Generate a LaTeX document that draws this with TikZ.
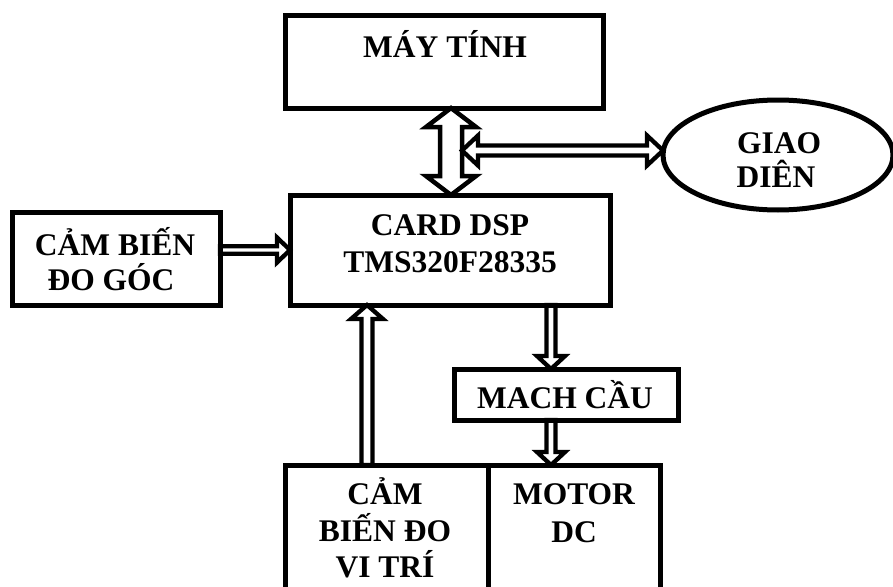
\documentclass[tikz,border=0pt]{standalone}
\usepackage{fontspec}
\setmainfont{Liberation Serif}
\usetikzlibrary{calc,shapes.geometric,backgrounds}
\tikzset{
  box/.style={draw, line width=5pt, rectangle, inner sep=0pt, outer sep=0pt},
  oval/.style={draw, line width=5pt, ellipse, inner sep=0pt, outer sep=0pt},
  lbl/.style={anchor=base, inner sep=0pt, font=\fontsize{31.5}{37}\selectfont\bfseries},
  blk/.style={draw, fill=white, line width=4.5pt, line join=miter, miter limit=10},
  blkthin/.style={blk, line width=4.3pt},
}
% single hollow block arrow: from #2 to #3, shaft half width #4, head half width #5, head length #6, style #1
\newcommand\sarr[6]{%
  \coordinate (tmpc) at ($(#3)!#6!(#2)$);
  \draw[#1] ($(#2)!#4!90:(#3)$) -- ($(tmpc)!#4!90:(#3)$) -- ($(tmpc)!#5!90:(#3)$) -- (#3)
    -- ($(tmpc)!#5!-90:(#3)$) -- ($(tmpc)!#4!-90:(#3)$) -- ($(#2)!#4!-90:(#3)$) -- cycle;}
% double hollow block arrow
\newcommand\darr[6]{%
  \coordinate (tmpa) at ($(#2)!#6!(#3)$);
  \coordinate (tmpb) at ($(#3)!#6!(#2)$);
  \draw[#1] (#2) -- ($(tmpa)!#5!90:(#3)$) -- ($(tmpa)!#4!90:(#3)$) -- ($(tmpb)!#4!90:(#3)$)
    -- ($(tmpb)!#5!90:(#3)$) -- (#3) -- ($(tmpb)!#5!-90:(#3)$) -- ($(tmpb)!#4!-90:(#3)$)
    -- ($(tmpa)!#4!-90:(#3)$) -- ($(tmpa)!#5!-90:(#3)$) -- cycle;}
\begin{document}
\begin{tikzpicture}[x=1pt, y=-1pt]
\useasboundingbox (0,0) rectangle (893,586);
\clip (0,0) rectangle (893,586);
% boxes
\node[box, minimum width=318pt, minimum height=92pt] (mt) at (444,62) {};
\node[box, minimum width=320pt, minimum height=110pt] (card) at (450,250) {};
\node[box, minimum width=208pt, minimum height=93pt] (cbg) at (116,258.5) {};
\node[box, minimum width=224pt, minimum height=51pt] (mc) at (566,394.5) {};
\node[box, minimum width=203pt, minimum height=155pt] (cbvt) at (386.5,542.5) {};
\node[box, minimum width=172pt, minimum height=155pt] (motor) at (574,542.5) {};
\node[oval, minimum width=230pt, minimum height=110pt] (gd) at (778,155) {};
% texts
\node[lbl] (t1) at (445,58) {MÁY TÍNH};
\node[lbl] (t2) at (450,235) {CARD DSP};
\node[lbl] (t3) at (450,272) {TMS320F28335};
\node[lbl] (t4) at (115,255) {CẢM BIẾN};
\node[lbl] (t5) at (111,290) {ĐO GÓC};
\node[lbl] (t6) at (779,153) {GIAO};
\node[lbl] (t7) at (776,187) {DIÊN};
\node[lbl] (t8) at (565,408) {MACH CẦU};
\node[lbl] (t9) at (385,504) {CẢM};
\node[lbl] (t10) at (385,541) {BIẾN ĐO};
\node[lbl] (t11) at (385,577) {VI TRÍ};
\node[lbl] (t12) at (574,504) {MOTOR};
\node[lbl] (t13) at (574,542) {DC};
% connector end points
\coordinate (vx) at (451,0);
\coordinate (ay) at (0,250);
\coordinate (ux) at (367,0);
\coordinate (dx) at (551,0);
\coordinate (v1) at (mt.south -| vx);
\coordinate (v2) at (card.north -| vx);
\coordinate (hl) at (462,150.5);
\coordinate (hr) at (gd.west |- hl);
\coordinate (a1) at (cbg.east |- ay);
\coordinate (a2) at (card.west |- ay);
\coordinate (u1) at (cbvt.north -| ux);
\coordinate (u2) at (card.south -| ux);
\coordinate (d1) at (card.south -| dx);
\coordinate (d2) at (mc.north -| dx);
\coordinate (d3) at (mc.south -| dx);
\coordinate (d4) at (motor.north -| dx);
\begin{scope}[on background layer]
\fill[white] (0,0) rectangle (893,586);
\darr{blk}{v1}{v2}{11pt}{25pt}{19pt}
\darr{blkthin}{hl}{hr}{5pt}{15pt}{16pt}
\sarr{blkthin}{a1}{a2}{3.7pt}{12.5pt}{13pt}
\sarr{blkthin}{u1}{u2}{5.5pt}{16pt}{14pt}
\sarr{blkthin}{d1}{d2}{4.5pt}{14pt}{13pt}
\sarr{blkthin}{d3}{d4}{4.5pt}{14pt}{13pt}
\end{scope}
\end{tikzpicture}
\end{document}
